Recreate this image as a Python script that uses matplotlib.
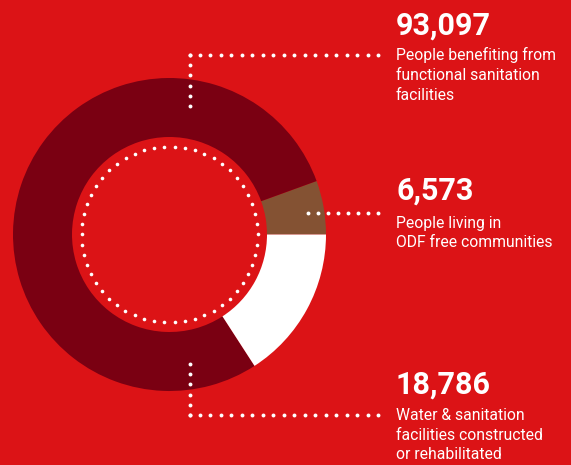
import numpy as np
import matplotlib
matplotlib.use("Agg")
import matplotlib.pyplot as plt

# ---- data ----
labels = ["People living in ODF free communities",
          "People benefiting from functional sanitation facilities",
          "Water & sanitation facilities constructed or rehabilitated"]
values = [6573, 93097, 18786]
value_labels = ["6,573", "93,097", "18,786"]
descriptions = [["People living in", "ODF free communities"],
                ["People benefiting from", "functional sanitation", "facilities"],
                ["Water & sanitation", "facilities constructed", "or rehabilitated"]]

BG = "#DC1316"
colors = ["#845233", "#7A0012", "#FFFFFF"]

W, H = 571, 465
fig = plt.figure(figsize=(W / 100, H / 100), dpi=100, facecolor=BG)
ax = fig.add_axes([0, 0, 1, 1])
ax.set_facecolor(BG)
ax.set_xlim(0, W)
ax.set_ylim(0, H)
ax.set_aspect("equal")
ax.axis("off")

def Y(y):  # image row -> data y
    return H - y

cx, cy = 169.5, Y(234.5)
R_out, R_in = 156.5, 97.5
ax.pie(values, colors=colors, startangle=0, counterclock=True,
       radius=R_out, center=(cx, cy),
       wedgeprops=dict(width=R_out - R_in, linewidth=0))
ax.set_xlim(0, W)
ax.set_ylim(0, H)

# dotted inner circle
r_dot = 88
n = 54
th = np.linspace(0, 2 * np.pi, n, endpoint=False)
ax.plot(cx + r_dot * np.cos(th), cy + r_dot * np.sin(th), "o",
        color="white", ms=2.6, mew=0)

def dotted(x0, y0, x1, y1, step=10.5):
    L = np.hypot(x1 - x0, y1 - y0)
    k = max(int(round(L / step)), 1)
    t = np.linspace(0, 1, k + 1)
    ax.plot(x0 + (x1 - x0) * t, Y(y0 + (y1 - y0) * t), "o",
            color="white", ms=2.8, mew=0)

# leader lines
dotted(189.5, 106, 189.5, 55)
dotted(189.5, 55, 378, 55)
dotted(308, 213, 378, 213)
dotted(189.5, 364, 189.5, 415)
dotted(189.5, 415, 378, 415)

# texts
num_font = dict(family=["Roboto", "DejaVu Sans"], weight="bold",
                size=22, color="white")
desc_font = dict(family=["Roboto", "DejaVu Sans"], size=11.3, color="white")
tx = 396
blocks = [
    (1, 35, [60, 80, 99.5]),
    (0, 200, [228, 247]),
    (2, 394, [420, 439.5, 459]),
]
for idx, base, lines in blocks:
    ax.text(tx, Y(base), value_labels[idx], va="baseline", ha="left", **num_font)
    for line, b in zip(descriptions[idx], lines):
        ax.text(tx, Y(b), line, va="baseline", ha="left", **desc_font)

fig.savefig("out.png", dpi=100, facecolor=BG)
